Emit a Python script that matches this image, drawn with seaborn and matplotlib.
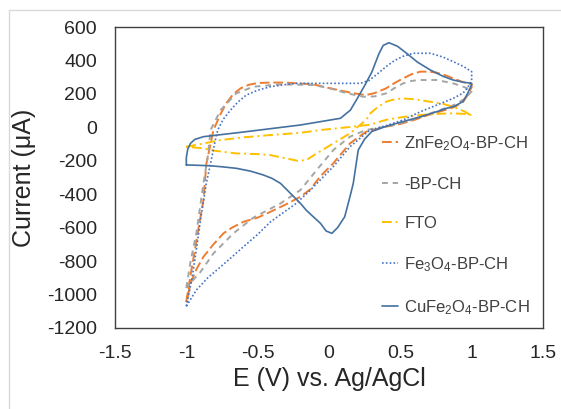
import matplotlib
matplotlib.use("Agg")
import matplotlib.pyplot as plt
import seaborn as sns
from matplotlib.lines import Line2D

# Cyclic voltammograms: potential (V vs Ag/AgCl) and current (uA),
# each loop runs from -1 V up to +1 V and back again.
zn_E = [-1.0, -0.97, -0.94, -0.91, -0.88, -0.86, -0.81, -0.76, -0.72, -0.67, -0.62, -0.56, -0.5,
        -0.4, -0.3, -0.2, -0.11, 0.0, 0.12, 0.2, 0.26, 0.32, 0.4, 0.46, 0.52, 0.58, 0.64, 0.7,
        0.755, 0.82, 0.87, 0.94, 1.0,
        1.0, 0.97, 0.94, 0.88, 0.8, 0.7, 0.6, 0.5, 0.4, 0.26, 0.147, 0.03, -0.063, -0.13, -0.2,
        -0.3, -0.41, -0.5, -0.6, -0.68, -0.74, -0.81, -0.88, -0.93, -0.97, -1.0]
zn_I = [-1045, -880, -734, -580, -435, -220, -16, 80, 144, 200, 233, 255, 265,
        268, 267, 262, 257, 235, 213, 200, 193, 205, 233, 265, 293, 318, 333, 333,
        327, 310, 293, 270, 257,
        240, 190, 153, 122, 100, 75, 45, 20, 4, -26, -96, -215, -295, -370, -415,
        -460, -505, -540, -565, -600, -634, -700, -774, -850, -933, -1045]

bp_E = [-1.0, -0.97, -0.93, -0.88, -0.85, -0.83, -0.76, -0.65, -0.53, -0.34, -0.11, 0.0, 0.12,
        0.24, 0.32, 0.4, 0.46, 0.52, 0.58, 0.64, 0.755, 0.87, 0.94, 1.0,
        1.0, 0.95, 0.88, 0.8, 0.7, 0.6, 0.5, 0.4, 0.26, 0.147, 0.03, -0.086, -0.2, -0.34, -0.53,
        -0.67, -0.81, -0.9, -0.96, -1.0]
bp_I = [-960, -800, -634, -335, -176, -16, 103, 203, 243, 257, 253, 235, 205,
        183, 185, 203, 235, 263, 278, 283, 283, 263, 243, 223,
        215, 170, 135, 110, 80, 50, 25, 5, -16, -56, -136, -255, -375, -455, -540,
        -634, -754, -864, -920, -960]

fto_E = [-1.0, -0.9, -0.76, -0.6, -0.41, -0.2, -0.06, 0.17, 0.29, 0.4, 0.52, 0.64, 0.75, 0.87,
         0.95, 1.0,
         1.0, 0.95, 0.87, 0.8, 0.71, 0.6, 0.52, 0.46, 0.4, 0.34, 0.29, 0.26, 0.147, 0.03,
         -0.086, -0.16, -0.22, -0.3, -0.41, -0.5, -0.65, -0.8, -0.88, -1.0]
fto_I = [-116, -100, -76, -60, -46, -33, -16, 4, 16, 45, 62, 74, 80, 84,
         80, 74,
         68, 95, 123, 140, 153, 168, 173, 168, 153, 120, 84, 44, -36, -96,
         -156, -196, -200, -186, -166, -160, -156, -140, -126, -116]

fe_E = [-1.0, -0.96, -0.93, -0.9, -0.86, -0.83, -0.8, -0.78, -0.74, -0.69, -0.64, -0.58, -0.5,
        -0.41, -0.3, -0.23, 0.0, 0.22, 0.28, 0.34, 0.4, 0.46, 0.52, 0.59, 0.71, 0.8, 0.87,
        0.94, 1.0,
        1.0, 0.97, 0.94, 0.87, 0.755, 0.64, 0.52, 0.4, 0.287, 0.147, 0.03, -0.13, -0.23, -0.41,
        -0.5, -0.6, -0.68, -0.76, -0.85, -0.93, -1.0]
fe_I = [-1070, -900, -734, -550, -335, -215, -90, -16, 50, 103, 150, 193, 222,
        243, 256, 263, 263, 263, 280, 320, 363, 400, 425, 443, 443, 420, 393,
        365, 333,
        280, 235, 205, 173, 133, 93, 44, 10, -16, -116, -235, -375, -455, -565,
        -640, -714, -775, -834, -900, -973, -1070]

cu_E = [-1.0, -1.0, -0.99, -0.97, -0.94, -0.88, -0.6, -0.2, 0.08, 0.15, 0.2, 0.25, 0.3, 0.35,
        0.38, 0.42, 0.48, 0.545, 0.62, 0.71, 0.8, 0.87, 0.94, 1.0,
        1.0, 0.97, 0.94, 0.88, 0.825, 0.75, 0.64, 0.5, 0.4, 0.3, 0.25, 0.205, 0.17, 0.147, 0.11,
        0.06, 0.02, -0.02, -0.06, -0.11, -0.16, -0.2, -0.27, -0.34, -0.4, -0.46, -0.55, -0.65,
        -0.75, -0.83, -0.92, -1.0]
cu_I = [-225, -180, -130, -95, -72, -56, -28, 14, 54, 103, 175, 250, 330, 440,
        490, 506, 485, 442, 390, 343, 305, 283, 270, 263,
        255, 200, 155, 126, 114, 92, 63, 30, 6, -25, -70, -136, -335, -415, -535,
        -600, -634, -620, -574, -535, -495, -455, -395, -335, -305, -285, -262, -245,
        -236, -230, -227, -225]

labels = ["ZnFe$_2$O$_4$-BP-CH", "-BP-CH", "FTO", "Fe$_3$O$_4$-BP-CH", "CuFe$_2$O$_4$-BP-CH"]
x_ticks = [-1.5, -1, -0.5, 0, 0.5, 1, 1.5]
x_tick_labels = ["-1.5", "-1", "-0.5", "0", "0.5", "1", "1.5"]
y_ticks = [600, 400, 200, 0, -200, -400, -600, -800, -1000, -1200]
y_tick_labels = ["600", "400", "200", "0", "-200", "-400", "-600", "-800", "-1000", "-1200"]

sns.set_theme(style="white")
plt.rcParams["font.family"] = ["Liberation Sans", "DejaVu Sans"]
plt.rcParams["mathtext.default"] = "regular"

W, H = 561, 409
fig = plt.figure(figsize=(W / 100, H / 100), dpi=100)
ax = fig.add_axes([115 / W, 1 - 328 / H, (543 - 115) / W, (328 - 27) / H])

series = [
    (zn_E, zn_I, "#ED7D31", (0, (5, 2)), 1.4),
    (bp_E, bp_I, "#A5A5A5", (0, (3, 2.5)), 1.4),
    (fto_E, fto_I, "#FFC000", (0, (5, 2, 1, 2)), 1.4),
    (fe_E, fe_I, "#4472C4", (0, (1, 1.3)), 1.2),
    (cu_E, cu_I, "#44719F", "-", 1.2),
]
for (E, I, col, ls, lw), lab in zip(series, labels):
    sns.lineplot(x=E, y=I, sort=False, estimator=None, color=col, linestyle=ls,
                 linewidth=lw, label=lab, ax=ax)

ax.set_xlim(-1.5, 1.5)
ax.set_ylim(-1200, 600)
ax.set_xticks(x_ticks)
ax.set_xticklabels(x_tick_labels)
ax.set_yticks(y_ticks)
ax.set_yticklabels(y_tick_labels)
ax.tick_params(axis="both", length=0, labelsize=14, labelcolor="#262626")
ax.tick_params(axis="y", pad=13)
ax.tick_params(axis="x", pad=12)
for sp in ax.spines.values():
    sp.set_color("#404040")
    sp.set_linewidth(1.0)

ax.set_xlabel("E (V) vs. Ag/AgCl", fontsize=18, color="#262626", labelpad=4)
ax.set_ylabel("Current (\u03bcA)", fontsize=18, color="#262626", labelpad=8)

leg = ax.legend(loc="upper left", bbox_to_anchor=(0.608, 0.667), frameon=False,
                fontsize=12, handlelength=0.95, handletextpad=0.4,
                labelspacing=1.45, borderaxespad=0)
for t in leg.get_texts():
    t.set_color("#404040")

# light chart-area border
fig.add_artist(Line2D([9 / W, 9 / W], [0, 1 - 10 / H], transform=fig.transFigure,
                      color="#D9D9D9", lw=1))
fig.add_artist(Line2D([9 / W, 1], [1 - 10 / H, 1 - 10 / H], transform=fig.transFigure,
                      color="#D9D9D9", lw=1))

fig.savefig("out.png", dpi=100, facecolor="white")
